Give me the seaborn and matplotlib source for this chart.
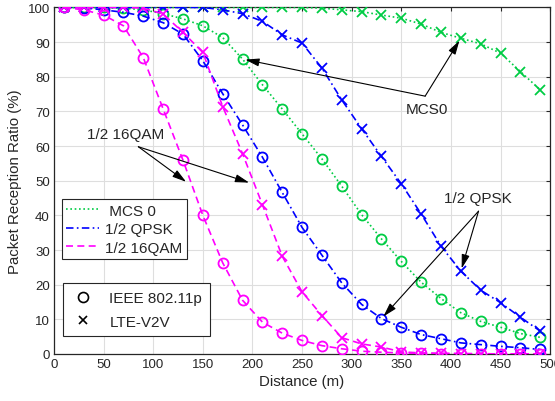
import numpy as np
import pandas as pd
import matplotlib
matplotlib.use("Agg")
import matplotlib.pyplot as plt
from matplotlib.lines import Line2D
import seaborn as sns

# distances (m) where the curves were sampled
distance = [10, 30, 50, 70, 90, 110, 130, 150, 170, 190, 210, 230, 250,
            270, 290, 310, 330, 350, 370, 390, 410, 430, 450, 470, 490]

# packet reception ratio (%)
mcs0_11p = [100, 100, 100, 99.8, 99.3, 98.2, 96.7, 94.7, 91.3, 85.1, 77.7, 70.7, 63.5,
            56.3, 48.4, 40.2, 33.2, 26.7, 20.7, 16.0, 11.9, 9.4, 7.7, 5.9, 4.8]
mcs0_lte = [100, 100, 100, 100, 100, 100, 100, 100, 100, 100, 100, 100, 100,
            99.8, 99.3, 98.8, 97.8, 96.9, 95.2, 92.8, 91.1, 89.5, 86.8, 81.5, 76.2]
qpsk_11p = [100, 99.9, 99.3, 98.6, 97.5, 95.6, 92.3, 84.6, 75.1, 66.1, 56.8, 46.6, 36.5,
            28.5, 20.5, 14.3, 10.2, 7.7, 5.6, 4.4, 3.2, 2.7, 2.2, 1.8, 1.3]
qpsk_lte = [100, 100, 100, 100, 100, 100, 100, 100, 99.3, 98.2, 96.0, 92.1, 89.7,
            82.5, 73.3, 65.0, 57.0, 49.1, 40.4, 31.1, 23.9, 18.4, 14.8, 10.6, 6.6]
qam_11p = [100, 99.3, 97.8, 94.7, 85.5, 70.7, 55.9, 40.0, 26.3, 15.5, 9.2, 6.0, 3.9,
           2.4, 1.5, 0.8, 0.5, 0.3, 0.2, 0.1, 0.1, 0, 0, 0, 0]
qam_lte = [100, 100, 100, 100, 99.8, 98.1, 92.8, 87.0, 71.4, 57.8, 43.1, 28.2, 17.9,
           11.1, 4.7, 2.9, 2.0, 0.6, 0.3, 0.2, 0.1, 0.1, 0, 0, 0]

x_ticks = [0, 50, 100, 150, 200, 250, 300, 350, 400, 450, 500]
y_ticks = [0, 10, 20, 30, 40, 50, 60, 70, 80, 90, 100]

GREEN = "#00CC44"
BLUE = "#0000FF"
MAGENTA = "#FF00FF"
DARK = "#262626"

sns.set_style("whitegrid")
plt.rcParams["font.family"] = ["Liberation Sans", "DejaVu Sans"]

fig = plt.figure(figsize=(5.55, 4.02), dpi=100)
ax = fig.add_axes([0.0973, 0.117, 0.894, 0.862])

styles = {
    "mcs0": (GREEN, (0, (1, 1.6))),
    "qpsk": (BLUE, (0, (4.5, 2, 1, 2))),
    "qam": (MAGENTA, (0, (4.2, 2.6))),
}
series = [
    (mcs0_11p, "mcs0", "o"), (mcs0_lte, "mcs0", "x"),
    (qpsk_11p, "qpsk", "o"), (qpsk_lte, "qpsk", "x"),
    (qam_11p, "qam", "o"), (qam_lte, "qam", "x"),
]
for vals, key, mk in series:
    col, ls = styles[key]
    df = pd.DataFrame({"d": distance, "prr": vals})
    sns.lineplot(data=df, x="d", y="prr", ax=ax, color=col, linestyle=ls,
                 linewidth=1.2, marker=mk, markersize=7.2 if mk == "o" else 6.5,
                 markerfacecolor="none", markeredgecolor=col,
                 markeredgewidth=1.3, legend=False, zorder=3)

ax.set_xlim(0, 500)
ax.set_ylim(0, 100)
ax.set_xticks(x_ticks)
ax.set_yticks(y_ticks)
ax.set_xlabel("Distance (m)", fontsize=10.8, color=DARK, labelpad=3)
ax.set_ylabel("Packet Reception Ratio (%)", fontsize=10.8, color=DARK, labelpad=4)
ax.tick_params(direction="in", length=3, width=0.8, colors=DARK, labelsize=9.5,
               top=True, right=True, pad=3)
ax.grid(True, color="#dedede", linewidth=0.8)
for s in ax.spines.values():
    s.set_color(DARK)
    s.set_linewidth(0.9)
    s.set_visible(True)

# annotations
arrow = dict(arrowstyle="-|>,head_length=0.7,head_width=0.2", color="black",
             lw=0.8, shrinkA=0, shrinkB=2, mutation_scale=12)
for tgt in [(190, 85.1), (410, 91.1)]:
    ax.annotate("", xy=tgt, xytext=(374, 74.4), arrowprops=arrow, zorder=5)
ax.text(376, 70.6, "MCS0", fontsize=11, ha="center", va="center", color=DARK)

for tgt in [(410, 23.9), (330, 10.2)]:
    ax.annotate("", xy=tgt, xytext=(427.8, 41.2), arrowprops=arrow, zorder=5)
ax.text(427.4, 45.1, "1/2 QPSK", fontsize=11, ha="center", va="center", color=DARK)

for tgt in [(135.4, 49.2), (199.3, 49.2)]:
    ax.annotate("", xy=tgt, xytext=(85, 59.8), arrowprops=arrow, zorder=5)
ax.text(72.6, 63.4, "1/2 16QAM", fontsize=11, ha="center", va="center", color=DARK)

# legends
h1 = [Line2D([], [], color=GREEN, linestyle=styles["mcs0"][1], lw=1.2),
      Line2D([], [], color=BLUE, linestyle=styles["qpsk"][1], lw=1.2),
      Line2D([], [], color=MAGENTA, linestyle=styles["qam"][1], lw=1.2)]
leg1 = ax.legend(h1, [" MCS 0", "1/2 QPSK", "1/2 16QAM"], loc="upper left",
                 bbox_to_anchor=(0.0155, 0.447), fontsize=11, frameon=True,
                 fancybox=False, framealpha=1, edgecolor=DARK, handlelength=2.15,
                 handletextpad=0.4, labelspacing=0.3, borderpad=0.3,
                 borderaxespad=0)
leg1.get_frame().set_linewidth(0.8)
ax.add_artist(leg1)

h2 = [Line2D([], [], color="black", linestyle="none", marker="o", markersize=7.2,
             markerfacecolor="none", markeredgewidth=1.2),
      Line2D([], [], color="black", linestyle="none", marker="x", markersize=6,
             markeredgewidth=1.2)]
leg2 = ax.legend(h2, ["IEEE 802.11p", "LTE-V2V"], loc="upper left",
                 bbox_to_anchor=(0.019, 0.204), fontsize=11, frameon=True,
                 fancybox=False, framealpha=1, edgecolor=DARK, handlelength=1.6,
                 handletextpad=0.9, labelspacing=0.65, borderpad=0.5,
                 borderaxespad=0)
leg2.get_frame().set_linewidth(0.8)

fig.savefig("out.png", dpi=100)
